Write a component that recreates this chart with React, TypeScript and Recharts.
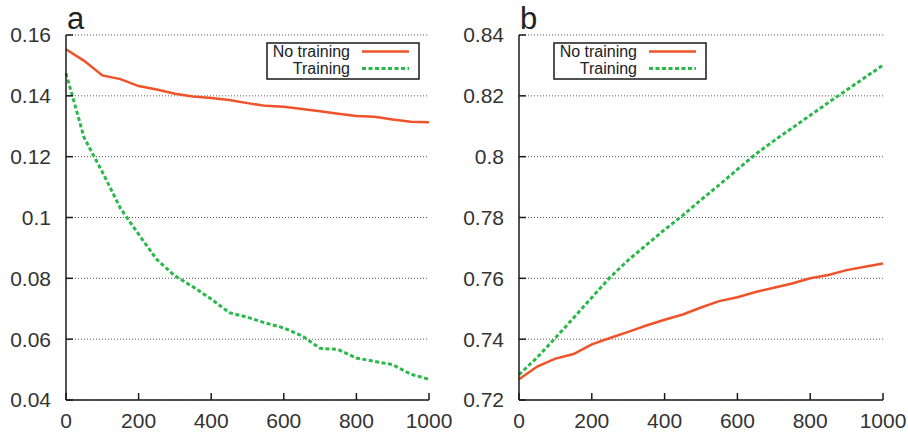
import { LineChart, Line, XAxis, YAxis, CartesianGrid, Legend } from 'recharts'

const xValues = [0, 50, 100, 150, 200, 250, 300, 350, 400, 450, 500, 550, 600, 650, 700, 750, 800, 850, 900, 950, 1000]

// panel a
const errNoTraining = [0.1553, 0.1515, 0.1467, 0.1455, 0.1432, 0.1421, 0.1407, 0.1398, 0.1393, 0.1386, 0.1376, 0.1367, 0.1364, 0.1357, 0.1349, 0.1341, 0.1334, 0.1331, 0.1322, 0.1315, 0.1313]
const errTraining = [0.1474, 0.1262, 0.115, 0.103, 0.0945, 0.0862, 0.0808, 0.0772, 0.0732, 0.0687, 0.0672, 0.0653, 0.0637, 0.0611, 0.057, 0.0566, 0.0538, 0.0527, 0.0516, 0.0485, 0.0468]

// panel b
const accNoTraining = [0.7268, 0.731, 0.7336, 0.7351, 0.7383, 0.7404, 0.7424, 0.7445, 0.7464, 0.7481, 0.7504, 0.7525, 0.7538, 0.7555, 0.7569, 0.7583, 0.76, 0.7611, 0.7627, 0.7638, 0.7649]
const accTraining = [0.7283, 0.734, 0.7404, 0.747, 0.7537, 0.7603, 0.766, 0.771, 0.776, 0.7807, 0.7858, 0.7907, 0.7958, 0.8008, 0.8052, 0.8094, 0.8136, 0.8178, 0.8219, 0.826, 0.8301]

const xTicks = [0, 200, 400, 600, 800, 1000]
const yTicksA = [0.04, 0.06, 0.08, 0.1, 0.12, 0.14, 0.16]
const yTicksB = [0.72, 0.74, 0.76, 0.78, 0.8, 0.82, 0.84]

const seriesNames = ['No training', 'Training']

const RED = '#f0522a'
const GREEN = '#2bb84a'
const FONT = '"Liberation Sans", Arial, sans-serif'
const AXIS = '#1a1a1a'
const tickStyle = { fontSize: 21, fill: '#333', fontFamily: FONT }

const buildRows = (a: number[], b: number[]) =>
	xValues.map((x, i) => ({ x, noTraining: a[i], training: b[i] }))

const LegendBox = () => (
	<svg width={154} height={38} style={{ display: 'block' }}>
		<rect x={1} y={1} width={152} height={36} fill='#fff' stroke={AXIS} strokeWidth={1.5} />
		<text x={84} y={15} textAnchor='end' fontSize={16} fontFamily={FONT} fill='#222'>
			{seriesNames[0]}
		</text>
		<text x={84} y={32} textAnchor='end' fontSize={16} fontFamily={FONT} fill='#222'>
			{seriesNames[1]}
		</text>
		<line x1={96} x2={143} y1={9.5} y2={9.5} stroke={RED} strokeWidth={2.5} />
		<line x1={96} x2={143} y1={26.5} y2={26.5} stroke={GREEN} strokeWidth={3} strokeDasharray='4 2.5' />
	</svg>
)

interface PanelProps {
	label: string
	left: number
	width: number
	yWidth: number
	rightMargin: number
	domain: [number, number]
	yTicks: number[]
	data: { x: number; noTraining: number; training: number }[]
	legendLeft: number
}

const Panel = ({ label, left, width, yWidth, rightMargin, domain, yTicks, data, legendLeft }: PanelProps) => (
	<div style={{ position: 'absolute', left, top: 0, width, height: 434 }}>
		<svg width={40} height={40} style={{ position: 'absolute', left: yWidth, top: 0 }}>
			<text x={1} y={29} fontSize={31} fontFamily={FONT} fill='#222'>
				{label}
			</text>
		</svg>
		<LineChart width={width} height={434} margin={{ top: 35, right: rightMargin, bottom: 0, left: 0 }}>
			<CartesianGrid vertical={false} stroke='#555' strokeDasharray='1 2' />
			<XAxis
				dataKey='x'
				type='number'
				domain={[0, 1000]}
				ticks={xTicks}
				height={34}
				tickSize={-7}
				tickMargin={20}
				tick={tickStyle}
				axisLine={{ stroke: AXIS, strokeWidth: 1.5 }}
				tickLine={{ stroke: AXIS, strokeWidth: 1.5 }}
			/>
			<XAxis
				xAxisId='top'
				orientation='top'
				dataKey='x'
				type='number'
				domain={[0, 1000]}
				ticks={xTicks}
				height={0}
				tickSize={-7}
				tickFormatter={() => ''}
				axisLine={{ stroke: AXIS, strokeWidth: 1.5 }}
				tickLine={{ stroke: AXIS, strokeWidth: 1.5 }}
			/>
			<YAxis
				type='number'
				domain={domain}
				ticks={yTicks}
				width={yWidth}
				tickSize={-7}
				tickMargin={22}
				tick={tickStyle}
				axisLine={{ stroke: AXIS, strokeWidth: 1.5 }}
				tickLine={{ stroke: AXIS, strokeWidth: 1.5 }}
			/>
			<YAxis
				yAxisId='right'
				orientation='right'
				type='number'
				domain={domain}
				ticks={yTicks}
				width={0}
				tickSize={-7}
				tickFormatter={() => ''}
				axisLine={{ stroke: AXIS, strokeWidth: 1.5 }}
				tickLine={{ stroke: AXIS, strokeWidth: 1.5 }}
			/>
			<Legend
				layout='horizontal'
				verticalAlign='middle'
				align='center'
				content={() => <LegendBox />}
				wrapperStyle={{ position: 'absolute', left: legendLeft, top: 42, width: 154, height: 38 }}
			/>
			<Line
				data={data}
				dataKey='noTraining'
				name={seriesNames[0]}
				stroke={RED}
				strokeWidth={2.5}
				dot={false}
				type='linear'
				isAnimationActive={false}
			/>
			<Line
				data={data}
				dataKey='training'
				name={seriesNames[1]}
				stroke={GREEN}
				strokeWidth={3}
				strokeDasharray='4 2.5'
				dot={false}
				type='linear'
				isAnimationActive={false}
			/>
		</LineChart>
	</div>
)

const App = () => (
	<div style={{ position: 'absolute', left: 0, top: 0, width: 908, height: 434, background: '#fff' }}>
		<Panel
			label='a'
			left={0}
			width={460}
			yWidth={66}
			rightMargin={31}
			domain={[0.04, 0.16]}
			yTicks={yTicksA}
			data={buildRows(errNoTraining, errTraining)}
			legendLeft={266}
		/>
		<Panel
			label='b'
			left={450}
			width={458}
			yWidth={69}
			rightMargin={25}
			domain={[0.72, 0.84]}
			yTicks={yTicksB}
			data={buildRows(accNoTraining, accTraining)}
			legendLeft={103}
		/>
	</div>
)

export default App
